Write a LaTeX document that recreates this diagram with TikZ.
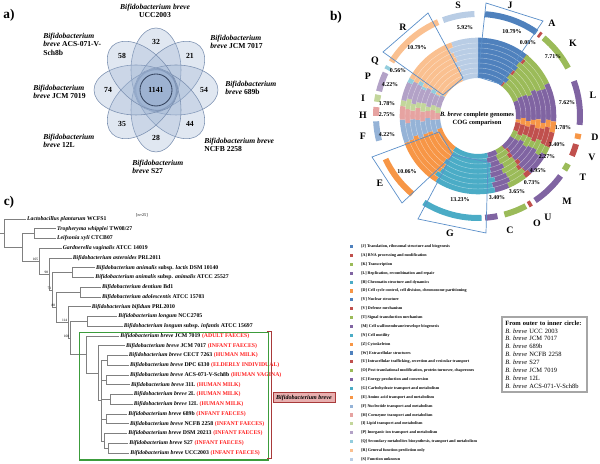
\documentclass[tikz,border=0pt]{standalone}
\usepackage{fontspec}
\setmainfont{Liberation Serif}
\usepackage{xcolor}
\usepackage{tikz}
\usetikzlibrary{positioning}
\definecolor{cogBlue}{HTML}{4F81BD}
\definecolor{cogRed}{HTML}{C0504D}
\definecolor{cogGreen}{HTML}{9BBB59}
\definecolor{cogPurple}{HTML}{8064A2}
\definecolor{cogCyan}{HTML}{4BACC6}
\definecolor{cogOrange}{HTML}{F79646}
\definecolor{cogBlueL}{HTML}{95B3D7}
\definecolor{cogRedL}{HTML}{E6A3A1}
\definecolor{cogGreenL}{HTML}{C3D69B}
\definecolor{cogPurpleL}{HTML}{B3A2C7}
\definecolor{cogCyanL}{HTML}{93CDDD}
\definecolor{cogOrangeL}{HTML}{FAC090}
\definecolor{cogBlueP}{HTML}{B9CDE5}
\definecolor{boxBlue}{HTML}{5B8FC9}
\definecolor{petalFill}{HTML}{9AB0D0}
\definecolor{petalLine}{HTML}{7A8FB0}
\definecolor{coreLine}{HTML}{34425C}
\definecolor{srcRed}{HTML}{FF2020}
\definecolor{cladeGreen}{HTML}{3C9C3C}
\definecolor{cladeRed}{HTML}{A83A3A}
\definecolor{tagFill}{HTML}{E8AFAF}
\newcommand{\srcnote}[1]{\hspace{0.3em}\textcolor{srcRed}{#1}}
\tikzset{
  petal/.style={draw=petalLine, fill=petalFill, fill opacity=0.3, line width=0.4pt},
  core/.style={circle, draw=coreLine, fill=petalFill, fill opacity=0.5, text opacity=1, line width=0.6pt, minimum size=0.8cm, inner sep=0pt, font=\fontsize{5.5}{6}\selectfont\bfseries},
  venncount/.style={font=\fontsize{5.5}{6}\selectfont\bfseries, inner sep=0pt},
  vennlabel/.style={font=\fontsize{5.4}{5.9}\selectfont\bfseries, align=left, anchor=north west, inner sep=0pt},
  panellabel/.style={font=\fontsize{9.5}{11}\selectfont\bfseries, inner sep=0pt},
  coglabel/.style={font=\fontsize{7}{8}\selectfont\bfseries, inner sep=0pt},
  pctlabel/.style={font=\fontsize{4.2}{5}\selectfont\bfseries, inner sep=0pt},
  hibox/.style={draw=boxBlue, line width=0.5pt},
  ringsep/.style={draw=white, draw opacity=0.45, line width=0.3pt},
  leaf/.style={anchor=west, inner sep=0.6pt, font=\fontsize{4.1}{5}\selectfont\bfseries},
  branch/.style={draw=gray, line width=0.4pt},
  boot/.style={font=\fontsize{2.5}{3}\selectfont, inner sep=0.4pt, anchor=south east},
  legtext/.style={anchor=west, font=\fontsize{2.9}{3.5}\selectfont\bfseries, inner sep=0pt},
  legdot/.style={minimum size=2.2pt, inner sep=0pt, fill=#1},
  cladebox/.style={draw=cladeGreen, line width=0.8pt},
  bracket/.style={draw=cladeRed, line width=0.7pt},
  cladetag/.style={draw=cladeRed, fill=tagFill, line width=0.5pt, minimum width=1.55cm, minimum height=0.25cm, inner sep=0pt, font=\fontsize{4.3}{5}\selectfont\bfseries\itshape},
  orderbox/.style={draw=gray!70, line width=0.8pt, minimum width=2.125cm, minimum height=1.875cm, align=left, text width=1.95cm, inner sep=0pt, font=\fontsize{4.6}{5.6}\selectfont},
}

\begin{document}
\begin{tikzpicture}[x=0.025cm, y=0.025cm]
  \useasboundingbox (0,0) rectangle (600,464);

  % panel labels
  \node[panellabel] (pa) at (9,449) {a)};
  \node[panellabel] (pb) at (336,447) {b)};
  \node[panellabel] (pc) at (9,262) {c)};

  % ---- a) Venn ----
  \coordinate (vc) at (156,374);
  \foreach \a in {90,45,0,-45,-90,-135,180,135}
    \draw[petal, shift={(vc)}, rotate=\a] (20,0) ellipse [x radius=42, y radius=25];
  \node[core] (vcore) at (vc) {1141};
  \foreach \a/\n in {90/32, 45/21, 0/54, -45/44, -90/28, -135/35, 180/74, 135/58}
    \node[venncount] (vn\n) at ([shift={(\a:48)}]vc) {\n};

  \node[vennlabel, align=center, anchor=north] (vUCC) at (155,460) {\textit{Bifidobacterium breve}\\UCC2003};
  \node[vennlabel] (vACS) at (43,431) {\textit{Bifidobacterium}\\\textit{breve} ACS-071-V-\\Sch8b};
  \node[vennlabel] (v7017) at (210,429) {\textit{Bifidobacterium}\\\textit{breve} JCM 7017};
  \node[vennlabel] (v689) at (225,383) {\textit{Bifidobacterium}\\\textit{breve} 689b};
  \node[vennlabel] (vNCFB) at (204,326) {\textit{Bifidobacterium breve}\\NCFB 2258};
  \node[vennlabel] (vS27) at (132,304) {\textit{Bifidobacterium}\\\textit{breve} S27};
  \node[vennlabel] (v12L) at (43,330) {\textit{Bifidobacterium}\\\textit{breve} 12L};
  \node[vennlabel] (v7019) at (33,379) {\textit{Bifidobacterium}\\\textit{breve} JCM 7019};

  % ---- b) COG rings ----
  \begin{scope}[shift={(478,348)}]
    \foreach \k in {0,...,7}{
      \pgfmathsetmacro\ri{38+5*\k}
      \pgfmathsetmacro\ro{\ri+5.3}
      \foreach \j/\pS/\pE/\col in {1/0/10.79/cogBlue, 2/10.79/10.87/cogRed, 3/10.87/18.58/cogGreen, 4/18.58/26.20/cogPurple, 5/26.20/27.98/cogOrange, 6/27.98/31.38/cogRed, 7/31.38/33.65/cogGreen, 8/33.65/38.60/cogPurple, 9/38.60/39.33/cogRed, 10/39.33/42.98/cogGreen, 11/42.98/46.38/cogPurple, 12/46.38/59.61/cogCyan, 13/59.61/69.67/cogOrange, 14/69.67/73.89/cogBlueL, 15/73.89/76.64/cogRedL, 16/76.64/78.42/cogGreenL, 17/78.42/82.64/cogPurpleL, 18/82.64/83.20/cogCyanL, 19/83.20/93.99/cogOrangeL, 20/93.99/100/cogBlueP}{
        \pgfmathsetmacro\aS{90-3.6*\pS+(\j>1)*1.8*sin(131*\k+77*(\j-1)+29)}
        \pgfmathsetmacro\aE{90-3.6*\pE+(\j<20)*1.8*sin(131*\k+77*\j+29)}
        \fill[\col] (\aS:\ri) arc[start angle=\aS, end angle=\aE, radius=\ri] -- (\aE:\ro) arc[start angle=\aE, end angle=\aS, radius=\ro] -- cycle;
      }
    }
    \foreach \k in {1,...,7}
      \draw[ringsep] (0,0) circle[radius=38+5*\k];
    \foreach \a/\b/\col in {110/92/cogBlueP, 86/55/cogBlue, 53.5/52/cogRed, 50/28/cogGreen, 20/-5/cogPurple, -10/-13/cogOrange, -16/-23/cogRed, -28/-32/cogGreen, -36/-56/cogPurple, -58.5/-60.5/cogRed, -62/-75/cogGreen, -79/-86/cogPurple, -88/-122/cogCyan, -130/-155/cogOrange, 194/183/cogBlueL, 180/175/cogRedL, 172/168/cogGreenL, 166/155/cogPurpleL, 153/151/cogCyanL, 148/113/cogOrangeL}
      \fill[\col] (\a:99) arc[start angle=\a, end angle=\b, radius=99] -- (\b:105) arc[start angle=\b, end angle=\a, radius=105] -- cycle;
  \end{scope}

  \node[pctlabel, align=center, font=\fontsize{4.6}{5.6}\selectfont\bfseries] (cogtitle) at (477,345) {\textit{B. breve} complete genomes\\COG comparison};

  \foreach \x/\y/\t [count=\i] in {465/436/5.92\%, 512/432/10.79\%, 528/421/0.08\%, 553/407/7.71\%, 567/361/7.62\%, 563/336/1.78\%, 557/319/3.40\%, 547/307/2.27\%, 538/293/4.95\%, 532/281/0.73\%, 517/272/3.65\%, 497/266/3.40\%, 460/264/13.23\%, 407/292/10.06\%, 387/329/4.22\%, 387/349/2.75\%, 387/360/1.78\%, 390/379/4.22\%, 398/393/0.56\%, 417/416/10.79\%}
    \node[pctlabel] (pct\i) at (\x,\y) {\t};

  \foreach \x/\y/\t in {458/459/S, 510/459/J, 552/441/A, 573/421/K, 593/369/L, 595/327/D, 592/307/V, 583/287/T, 567/263/M, 548/247/U, 537/241/O, 510/234/C, 450/231/G, 380/281/E, 363/328/F, 363/349/H, 363/366/I, 368/388/P, 375/403/Q, 403/437/R}
    \node[coglabel] (cl\t) at (\x,\y) {\t};

  % highlighted sectors
  \draw[hibox] (486,461) -- (543,443) -- (500,380) -- (478,387) -- cycle;
  \draw[hibox] (383,412) -- (428,451) -- (463,386) -- (443,369) -- cycle;
  \draw[hibox] (372,307) -- (439,332) -- (453,309) -- (402,261) -- cycle;
  \draw[hibox] (452,309) -- (488,302) -- (486,231) -- (418,245) -- cycle;

  % COG legend
  \foreach \col/\txt [count=\i from 0] in {cogBlue/{[J] Translation, ribosomal structure and biogenesis}, cogRed/{[A] RNA processing and modification}, cogGreen/{[K] Transcription}, cogPurple/{[L] Replication, recombination and repair}, cogCyan/{[B] Chromatin structure and dynamics}, cogOrange/{[D] Cell cycle control, cell division, chromosome partitioning}, cogBlue/{[Y] Nuclear structure}, cogRed/{[V] Defense mechanism}, cogGreen/{[T] Signal transduction mechanism}, cogPurple/{[M] Cell wall/membrane/envelope biogenesis}, cogCyan/{[N] Cell motility}, cogOrange/{[Z] Cytoskeleton}, cogBlue/{[W] Extracellular structures}, cogRed/{[U] Intracellular trafficking, secretion and vesicular transport}, cogGreen/{[O] Post translational modification, protein turnover, chaperones}, cogPurple/{[C] Energy production and conversion}, cogCyan/{[G] Carbohydrate transport and metabolism}, cogOrange/{[E] Amino acid transport and metabolism}, cogBlueL/{[F] Nucleotide transport and metabolism}, cogRedL/{[H] Coenzyme transport and metabolism}, cogGreenL/{[I] Lipid transport and metabolism}, cogPurpleL/{[P] Inorganic ion transport and metabolism}, cogCyanL/{[Q] Secondary metabolites biosynthesis, transport and metabolism}, cogOrangeL/{[R] General function prediction only}, cogBlueP/{[S] Function unknown}}{
    \node[legdot=\col] (ld\i) at (351.7,{217.3-8.86*\i}) {};
    \node[legtext] (lt\i) at (361,{217.3-8.86*\i}) {\txt};
  }

  \node[orderbox] (order) at (544.5,109.5) {{\bfseries From outer to inner circle:}\\
    \textit{B. breve} UCC 2003\\ \textit{B. breve} JCM 7017\\ \textit{B. breve} 689b\\ \textit{B. breve} NCFB 2258\\
    \textit{B. breve} S27\\ \textit{B. breve} JCM 7019\\ \textit{B. breve} 12L\\ \textit{B. breve} ACS-071-V-Sch8b};

  % ---- c) tree ----
  \node[leaf] (t0) at (26,245) {\textit{Lactobacillus plantarum} WCFS1};
  \node[leaf] (t1) at (56,235.25) {\textit{Tropheryma whipplei} TW08/27};
  \node[leaf] (t2) at (56,225.5) {\textit{Leifsonia xyli} CTCB07};
  \node[leaf] (t3) at (61.7,215.75) {\textit{Gardnerella vaginalis} ATCC 14019};
  \node[leaf] (t4) at (71.7,206) {\textit{Bifidobacterium asteroides} PRL2011};
  \node[leaf] (t5) at (95,196.25) {\textit{Bifidobacterium animalis} subsp. \textit{lactis} DSM 10140};
  \node[leaf] (t6) at (94.3,186.5) {\textit{Bifidobacterium animalis} subsp. \textit{animalis} ATCC 25527};
  \node[leaf] (t7) at (101,176.75) {\textit{Bifidobacterium dentium} Bd1};
  \node[leaf] (t8) at (101,167) {\textit{Bifidobacterium adolescentis} ATCC 15703};
  \node[leaf] (t9) at (90.7,157.25) {\textit{Bifidobacterium bifidum} PRL2010};
  \node[leaf] (t10) at (117.3,147.5) {\textit{Bifidobacterium longum} NCC2705};
  \node[leaf] (t11) at (122.7,137.75) {\textit{Bifidobacterium longum} subsp. \textit{infantis} ATCC 15697};
  \node[leaf] (t12) at (119.3,128) {\textit{Bifidobacterium breve} JCM 7019\srcnote{(ADULT FAECES)}};
  \node[leaf] (t13) at (125,118.25) {\textit{Bifidobacterium breve} JCM 7017\srcnote{(INFANT FAECES)}};
  \node[leaf] (t14) at (127.7,108.5) {\textit{Bifidobacterium breve} CECT 7263\srcnote{(HUMAN MILK)}};
  \node[leaf] (t15) at (129,98.75) {\textit{Bifidobacterium breve} DPC 6330\srcnote{(ELDERLY INDIVIDUAL)}};
  \node[leaf] (t16) at (129,89) {\textit{Bifidobacterium breve} ACS-071-V-Sch8b\srcnote{(HUMAN VAGINA)}};
  \node[leaf] (t17) at (130,79.25) {\textit{Bifidobacterium breve} 31L\srcnote{(HUMAN MILK)}};
  \node[leaf] (t18) at (132.7,69.5) {\textit{Bifidobacterium breve} 2L\srcnote{(HUMAN MILK)}};
  \node[leaf] (t19) at (132.7,59.75) {\textit{Bifidobacterium breve} 12L\srcnote{(HUMAN MILK)}};
  \node[leaf] (t20) at (127.3,50) {\textit{Bifidobacterium breve} 689b\srcnote{(INFANT FAECES)}};
  \node[leaf] (t21) at (129,40.25) {\textit{Bifidobacterium breve} NCFB 2258\srcnote{(INFANT FAECES)}};
  \node[leaf] (t22) at (127.3,30.5) {\textit{Bifidobacterium breve} DSM 20213\srcnote{(INFANT FAECES)}};
  \node[leaf] (t23) at (128.3,20.75) {\textit{Bifidobacterium breve} S27\srcnote{(INFANT FAECES)}};
  \node[leaf] (t24) at (129.3,11) {\textit{Bifidobacterium breve} UCC2003\srcnote{(INFANT FAECES)}};

  \coordinate (rt) at (0,230.8);
  \coordinate (n0) at (4,230.8);
  \coordinate (n1) at (22,216.6);
  \coordinate (n2) at (34,230.4);
  \coordinate (n3) at (39,202.9);
  \coordinate (n4) at (49,190);
  \coordinate (n5) at (52,174.1);
  \coordinate (n6) at (72,191.4);
  \coordinate (n7) at (56,156.8);
  \coordinate (n8) at (80,171.9);
  \coordinate (n9) at (68,141.6);
  \coordinate (n10) at (70,126);
  \coordinate (n11) at (87,142.6);
  \coordinate (nb) at (86,109.4);
  \coordinate (nb2) at (98,90.8);
  \coordinate (nb3) at (101,63.4);
  \coordinate (nc0) at (107,103.6);
  \coordinate (nc1) at (106,84.1);
  \coordinate (nc2) at (110,64.6);
  \coordinate (nc5) at (106,45.1);
  \coordinate (nc3) at (104,23.2);
  \coordinate (nc4) at (108,15.9);

  \draw[branch] (rt) -- (n0);
  \foreach \a/\b in {n0/t0, n0/n1, n1/n2, n1/n3, n2/t1, n2/t2, n3/t3, n3/n4, n4/t4, n4/n5, n5/n6, n5/n7, n6/t5, n6/t6, n7/n8, n7/n9, n8/t7, n8/t8, n9/t9, n9/n10, n10/n11, n10/nb, n11/t10, n11/t11, nb/t12, nb/nb2, nb2/t13, nb2/nb3, nb3/nc0, nb3/nc1, nb3/nc2, nb3/nc5, nb3/nc3, nc0/t14, nc0/t15, nc1/t16, nc1/t17, nc2/t18, nc2/t19, nc5/t20, nc5/t21, nc3/t22, nc3/nc4, nc4/t23, nc4/t24}
    \draw[branch] (\a) |- (\b);

  \foreach \n/\v in {n3/105, n4/98, n5/71, n7/88, n9/114, n10/100}
    \node[boot] (bs\n) at (\n) {\v};

  \node[boot, anchor=center, font=\fontsize{3}{3.5}\selectfont] (scale) at (142,249) {[n=25]};

  \draw[cladebox] (79.3,131.7) rectangle (268.3,4);
  \draw[bracket] (267,132) -- (271,132) -- (271,5) -- (267,5);
  \node[cladetag] (bbtag) at (304,66.3) {Bifidobacterium breve};
\end{tikzpicture}
\end{document}
